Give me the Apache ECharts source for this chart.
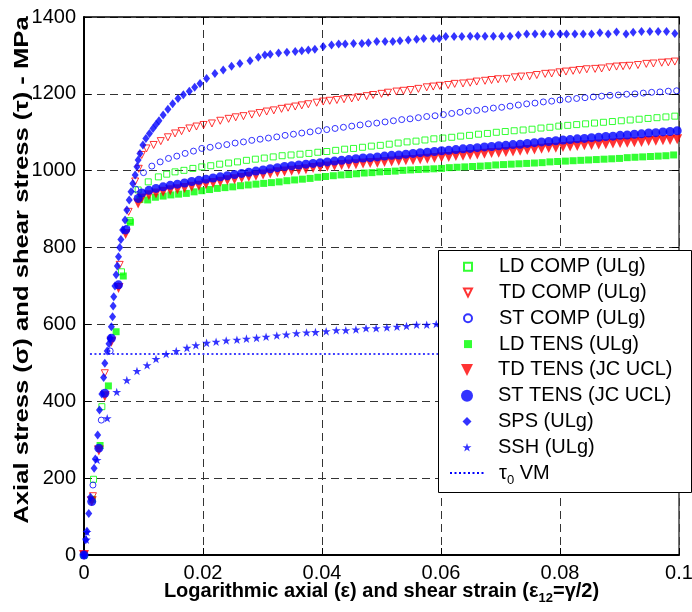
<!DOCTYPE html>
<html><head><meta charset="utf-8">
<script src="https://cdn.jsdelivr.net/npm/echarts@6/dist/echarts.min.js"></script>
<style>html,body{margin:0;padding:0;background:#fff}#c{width:692px;height:612px}</style>
</head><body><div id="c"></div>
<script>
// ---------- data (strain, stress MPa) ----------
const xTickLabels = ['0', '0.02', '0.04', '0.06', '0.08', '0.1'];
const yTickLabels = ['0', '200', '400', '600', '800', '1000', '1200', '1400'];

const ldComp = [[0,0],[0.0016,197],[0.0030,386],[0.0063,737],[0.0077,870],[0.0091,950],[0.0108,971],[0.0125,984],[0.0139,991],[0.0153,997],[0.0168,1001],[0.0183,1006],[0.0198,1010],[0.0213,1013],[0.0228,1017],[0.0243,1020],[0.0258,1023],[0.0273,1027],[0.0288,1030],[0.0303,1033],[0.0318,1036],[0.0333,1039],[0.0348,1041],[0.0363,1043],[0.0378,1045],[0.0393,1048],[0.0408,1050],[0.0423,1053],[0.0438,1056],[0.0453,1058],[0.0468,1061],[0.0483,1064],[0.0498,1066],[0.0513,1069],[0.0528,1072],[0.0543,1075],[0.0558,1077],[0.0573,1080],[0.0588,1083],[0.0603,1085],[0.0618,1087],[0.0633,1090],[0.0648,1092],[0.0663,1095],[0.0678,1097],[0.0693,1100],[0.0708,1102],[0.0723,1104],[0.0738,1106],[0.0753,1108],[0.0768,1111],[0.0783,1113],[0.0798,1116],[0.0813,1118],[0.0828,1120],[0.0843,1122],[0.0858,1124],[0.0873,1126],[0.0888,1128],[0.0903,1130],[0.0918,1132],[0.0933,1134],[0.0948,1136],[0.0963,1138],[0.0978,1140],[0.0993,1142]];

const tdComp = [[0,0],[0.0015,153],[0.0035,473],[0.0060,755],[0.0075,893],[0.0086,972],[0.0092,1005],[0.0097,1041],[0.0105,1058],[0.0117,1067],[0.0129,1077],[0.0141,1087],[0.0153,1097],[0.0164,1103],[0.0177,1110],[0.0189,1115],[0.0201,1119],[0.0215,1123],[0.0229,1130],[0.0243,1135],[0.0255,1139],[0.0268,1142],[0.0282,1146],[0.0295,1150],[0.0307,1154],[0.0319,1157],[0.0332,1161],[0.0343,1164],[0.0355,1167],[0.0366,1170],[0.0377,1173],[0.0391,1177],[0.0402,1180],[0.0413,1182],[0.0425,1184],[0.0437,1186],[0.0450,1188],[0.0461,1191],[0.0475,1194],[0.0486,1197],[0.0500,1200],[0.0511,1203],[0.0525,1206],[0.0537,1208],[0.0549,1210],[0.0562,1213],[0.0576,1217],[0.0587,1219],[0.0598,1221],[0.0612,1223],[0.0623,1226],[0.0637,1227],[0.0649,1229],[0.0660,1232],[0.0674,1234],[0.0685,1236],[0.0696,1238],[0.0710,1239],[0.0724,1243],[0.0735,1245],[0.0749,1246],[0.0761,1249],[0.0775,1252],[0.0786,1253],[0.0799,1256],[0.0810,1258],[0.0822,1260],[0.0833,1262],[0.0845,1264],[0.0859,1265],[0.0870,1266],[0.0883,1269],[0.0895,1271],[0.0906,1272],[0.0917,1273],[0.0931,1275],[0.0945,1278],[0.0957,1279],[0.0971,1281],[0.0982,1282],[0.0993,1284]];

const stComp = [[0,0],[0.0015,182],[0.0029,351],[0.0044,531],[0.0058,700],[0.0072,850],[0.0087,952],[0.0100,995],[0.0114,1012],[0.0128,1023],[0.0142,1032],[0.0156,1038],[0.0170,1045],[0.0184,1051],[0.0198,1058],[0.0212,1061],[0.0226,1065],[0.0240,1068],[0.0254,1072],[0.0268,1075],[0.0282,1079],[0.0296,1082],[0.0310,1085],[0.0324,1088],[0.0338,1092],[0.0352,1095],[0.0366,1098],[0.0380,1101],[0.0394,1104],[0.0408,1107],[0.0422,1110],[0.0436,1113],[0.0450,1116],[0.0464,1119],[0.0478,1122],[0.0492,1124],[0.0506,1127],[0.0520,1130],[0.0534,1133],[0.0548,1135],[0.0562,1138],[0.0576,1141],[0.0590,1143],[0.0604,1146],[0.0618,1149],[0.0632,1152],[0.0646,1155],[0.0660,1157],[0.0674,1160],[0.0688,1163],[0.0702,1165],[0.0716,1168],[0.0730,1171],[0.0744,1174],[0.0758,1176],[0.0772,1179],[0.0786,1181],[0.0800,1184],[0.0814,1186],[0.0828,1188],[0.0842,1190],[0.0856,1192],[0.0870,1194],[0.0884,1196],[0.0898,1197],[0.0912,1199],[0.0926,1200],[0.0940,1202],[0.0954,1204],[0.0968,1205],[0.0982,1207],[0.0996,1208]];

const ldTens = [[0,0],[0.0014,145],[0.0027,285],[0.0041,440],[0.0054,581],[0.0066,726],[0.0078,866],[0.0094,925],[0.0107,924],[0.0120,931],[0.0133,934],[0.0146,937],[0.0159,939],[0.0172,941],[0.0185,945],[0.0198,948],[0.0211,951],[0.0224,954],[0.0237,956],[0.0250,958],[0.0263,961],[0.0276,963],[0.0289,965],[0.0302,967],[0.0315,969],[0.0328,971],[0.0341,974],[0.0354,976],[0.0367,978],[0.0380,980],[0.0393,983],[0.0406,985],[0.0419,987],[0.0432,989],[0.0445,990],[0.0458,992],[0.0471,994],[0.0484,995],[0.0497,997],[0.0510,998],[0.0523,999],[0.0536,1001],[0.0549,1002],[0.0562,1003],[0.0575,1004],[0.0588,1005],[0.0601,1006],[0.0614,1008],[0.0627,1009],[0.0640,1010],[0.0653,1011],[0.0666,1012],[0.0679,1013],[0.0692,1015],[0.0705,1016],[0.0718,1017],[0.0731,1018],[0.0744,1019],[0.0757,1020],[0.0770,1021],[0.0783,1023],[0.0796,1024],[0.0809,1025],[0.0822,1026],[0.0835,1027],[0.0848,1028],[0.0861,1029],[0.0874,1030],[0.0887,1031],[0.0900,1032],[0.0913,1034],[0.0926,1035],[0.0939,1036],[0.0952,1037],[0.0965,1038],[0.0978,1039],[0.0991,1041]];

// JC UCL tension tests share one strain sampling
const tensStrain = [0,0.0013,0.0025,0.0035,0.0046,0.0058,0.0070,0.0091,
0.0097,0.0109,0.0121,0.0133,0.0145,0.0157,0.0169,0.0181,0.0193,0.0205,
0.0217,0.0229,0.0241,0.0253,0.0265,0.0277,0.0289,0.0301,0.0313,0.0325,
0.0337,0.0349,0.0361,0.0373,0.0385,0.0397,0.0409,0.0421,0.0433,0.0445,
0.0457,0.0469,0.0481,0.0493,0.0505,0.0517,0.0529,0.0541,0.0553,0.0565,
0.0577,0.0589,0.0601,0.0613,0.0625,0.0637,0.0649,0.0661,0.0673,0.0685,
0.0697,0.0709,0.0721,0.0733,0.0745,0.0757,0.0769,0.0781,0.0793,0.0805,
0.0817,0.0829,0.0841,0.0853,0.0865,0.0877,0.0889,0.0901,0.0913,0.0925,
0.0937,0.0949,0.0961,0.0973,0.0985,0.0997];
const tdTensStress = [0,140,272,413,555,695,835,915,
928,936,941,945,949,952,955,958,961,965,
968,971,975,978,981,984,987,990,993,996,
998,1000,1002,1004,1007,1009,1011,1013,1015,1016,
1017,1019,1020,1021,1023,1024,1026,1027,1028,1030,
1031,1033,1035,1036,1038,1039,1041,1042,1044,1046,
1047,1049,1050,1052,1054,1055,1057,1059,1060,1062,
1063,1064,1066,1067,1068,1069,1071,1072,1073,1074,
1075,1077,1078,1079,1080,1082];
const stTensStress = [0,139,278,421,564,703,846,928,
942,949,954,958,962,965,968,972,975,978,
981,984,987,990,993,996,999,1002,1005,1008,
1011,1013,1015,1017,1019,1021,1023,1025,1027,1029,
1031,1033,1034,1036,1038,1040,1041,1043,1045,1047,
1048,1050,1052,1053,1055,1057,1058,1060,1062,1063,
1065,1066,1068,1069,1071,1073,1075,1076,1078,1080,
1081,1083,1084,1086,1087,1089,1090,1092,1093,1095,
1096,1098,1099,1101,1102,1104];

const sps = [[0,0],[0.0003,40],[0.0005,62],[0.0008,108],[0.0011,150],[0.0017,226],[0.0019,250],[0.0023,312],[0.0026,377],[0.0030,419],[0.0033,462],[0.0035,499],[0.0039,531],[0.0042,550],[0.0044,564],[0.0046,594],[0.0048,620],[0.0049,648],[0.0050,672],[0.0052,700],[0.0054,729],[0.0056,752],[0.0058,776],[0.0060,800],[0.0062,821],[0.0065,846],[0.0069,872],[0.0072,898],[0.0076,924],[0.0079,945],[0.0082,967],[0.0086,989],[0.0089,1010],[0.0091,1028],[0.0094,1045],[0.0099,1067],[0.0104,1084],[0.0110,1097],[0.0116,1110],[0.0121,1120],[0.0126,1130],[0.0133,1145],[0.0141,1160],[0.0149,1174],[0.0158,1188],[0.0167,1198],[0.0177,1207],[0.0186,1217],[0.0195,1227],[0.0206,1240],[0.0220,1253],[0.0234,1262],[0.0248,1272],[0.0262,1279],[0.0279,1286],[0.0293,1295],[0.0304,1301],[0.0313,1303],[0.0327,1306],[0.0341,1308],[0.0355,1310],[0.0366,1312],[0.0377,1314],[0.0388,1316],[0.0402,1323],[0.0416,1327],[0.0428,1330],[0.0439,1330],[0.0453,1331],[0.0467,1331],[0.0478,1333],[0.0492,1336],[0.0506,1336],[0.0519,1336],[0.0531,1338],[0.0545,1340],[0.0559,1342],[0.0571,1344],[0.0587,1344],[0.0597,1344],[0.0608,1349],[0.0622,1349],[0.0635,1349],[0.0649,1350],[0.0661,1350],[0.0674,1350],[0.0688,1350],[0.0702,1350],[0.0716,1350],[0.0730,1353],[0.0744,1356],[0.0758,1356],[0.0772,1356],[0.0786,1356],[0.0800,1356],[0.0811,1356],[0.0825,1356],[0.0839,1356],[0.0853,1356],[0.0867,1359],[0.0881,1356],[0.0895,1361],[0.0911,1356],[0.0923,1360],[0.0937,1362],[0.0951,1362],[0.0965,1362],[0.0979,1362],[0.0993,1357]];

const ssh = [[0,0],[0.0004,40],[0.0005,60],[0.0022,247],[0.0039,356],[0.0055,424],[0.0072,455],[0.0089,479],[0.0106,494],[0.0121,510],[0.0138,523],[0.0155,531],[0.0173,539],[0.0188,546],[0.0206,552],[0.0222,555],[0.0239,558],[0.0257,560],[0.0273,563],[0.0290,565],[0.0306,568],[0.0324,571],[0.0340,574],[0.0357,577],[0.0374,579],[0.0389,580],[0.0407,582],[0.0424,585],[0.0440,585],[0.0457,587],[0.0474,590],[0.0491,590],[0.0509,592],[0.0526,594],[0.0542,596],[0.0559,599],[0.0576,599],[0.0592,601],[0.0609,602],[0.0626,603],[0.0643,605]];

const tau0Strain = [0.001, 0.1];
const tau0Stress = [523, 523];

// ---------- chart ----------
const zip = (xs, ys) => xs.map((x, i) => [x, ys[i]]);
const FONT = "'Liberation Sans', Arial, Helvetica, sans-serif";
const BLUE = '#0000ff', RED = '#ff0000', GREEN = '#00ff00';
const STAR = 'path://M50,0 L61.8,36.2 L100,36.2 L69.1,58.8 L80.9,95.1 L50,72.7 L19.1,95.1 L30.9,58.8 L0,36.2 L38.2,36.2 Z';
const DOWN_TRI = 'path://M0,0 L100,0 L50,100 Z';
const CLEAR = 'rgba(0,0,0,0)';

const chart = echarts.init(document.getElementById('c'), null, {renderer: 'canvas'});

function scatter(name, data, symbol, size, color, open) {
  return {
    name, type: 'scatter', data, symbol, symbolSize: size,
    symbolKeepAspect: true, clip: false, silent: true,
    itemStyle: open ? {color: CLEAR, borderColor: color, borderWidth: 1} : {color: color, borderWidth: 0},
    emphasis: {disabled: true}
  };
}

const richText = {
  a: {fontSize: 20, color: '#000', fontFamily: FONT, lineHeight: 20, verticalAlign: 'top'},
  s: {fontSize: 13, color: '#000', fontFamily: FONT, lineHeight: 13, padding: [11, 0, 0, 0], verticalAlign: 'top'}
};
// legend block: rows centred at 266.7 + 25.8*k, icon centred at x=467, text starting at x=498
function legendBlock(names, size, firstRow, isLine) {
  const w = isLine ? 36 : size;
  return {
    orient: 'vertical', left: 467 - w / 2, top: 266.7 + 25.8 * firstRow - 10, padding: 0, itemGap: 5.8,
    itemWidth: w, itemHeight: size, selectedMode: false, z: 10, backgroundColor: CLEAR,
    textStyle: {fontSize: 20, color: '#000', fontFamily: FONT, lineHeight: 20,
      padding: [0, 0, 0, 26 - w / 2], rich: richText},
    formatter: n => n === 'τ0 VM' ? '{a|τ}{s|0}{a| VM}' : n,
    data: names
  };
}

const option = {
  animation: false,
  textStyle: {fontFamily: FONT},
  grid: {left: 84, right: 13, top: 17, bottom: 57, containLabel: false, outerBoundsMode: 'none'},
  xAxis: [{
    type: 'value', min: 0, max: 0.1, interval: 0.02, position: 'bottom',
    axisLine: {show: true, lineStyle: {color: '#000', width: 2}},
    axisTick: {show: true, inside: true, length: 7, lineStyle: {color: '#000', width: 1}},
    axisLabel: {fontSize: 20, color: '#000', fontFamily: FONT, margin: 8,
      formatter: v => xTickLabels[Math.round(v / 0.02)]},
    splitLine: {show: true, lineStyle: {color: '#333', type: [8, 5], width: 1}},
    name: '{a|Logarithmic axial (ε) and shear strain (ε}{s|12}{a|=γ/2)}',
    nameLocation: 'middle', nameGap: 26, nameMoveOverlap: false,
    nameTextStyle: {rich: {
      a: {fontSize: 20, fontWeight: 'bold', color: '#000', fontFamily: FONT, lineHeight: 20, verticalAlign: 'top'},
      s: {fontSize: 13, fontWeight: 'bold', color: '#000', fontFamily: FONT, lineHeight: 13, padding: [11, 0, 0, 0], verticalAlign: 'top'}
    }}
  }, {
    type: 'value', min: 0, max: 0.1, interval: 0.02, position: 'top',
    axisLine: {show: true, onZero: false, lineStyle: {color: '#000', width: 1.5}},
    axisTick: {show: true, inside: true, length: 7, lineStyle: {color: '#000'}},
    axisLabel: {show: false}, splitLine: {show: false}
  }],
  yAxis: [{
    type: 'value', min: 0, max: 1400, interval: 200, position: 'left',
    axisLine: {show: true, lineStyle: {color: '#000', width: 2}},
    axisTick: {show: true, inside: true, length: 7, lineStyle: {color: '#000', width: 1}},
    axisLabel: {fontSize: 20, color: '#000', fontFamily: FONT, margin: 8,
      formatter: v => yTickLabels[Math.round(v / 200)]},
    splitLine: {show: true, lineStyle: {color: '#333', type: [8, 5], width: 1}}
  }, {
    type: 'value', min: 0, max: 1400, interval: 200, position: 'right',
    axisLine: {show: true, onZero: false, lineStyle: {color: '#444', width: 1.5}},
    axisTick: {show: true, inside: true, length: 7, lineStyle: {color: '#000'}},
    axisLabel: {show: false}, splitLine: {show: false}
  }],
  legend: [
    legendBlock([{name: 'LD COMP (ULg)'}, {name: 'TD COMP (ULg)', icon: DOWN_TRI}, {name: 'ST COMP (ULg)'}, {name: 'LD TENS (ULg)'}], 8, 0),
    legendBlock([{name: 'TD TENS (JC UCL)', icon: DOWN_TRI}, {name: 'ST TENS (JC UCL)'}], 12, 4),
    legendBlock([{name: 'SPS (ULg)'}, {name: 'SSH (ULg)'}], 9, 6),
    legendBlock([{name: 'τ0 VM', itemStyle: {opacity: 0, color: CLEAR, borderWidth: 0}}], 9, 8, true)
  ],
  graphic: [{
    type: 'rect', z: 5, silent: true,
    shape: {x: 438.5, y: 250.5, width: 253, height: 242},
    style: {fill: '#fff', stroke: '#000', lineWidth: 1}
  }, {
    type: 'text', z: 5, silent: true,
    x: 22, y: 270, rotation: Math.PI / 2, scaleX: 1.22,
    style: {text: 'Axial stress (σ) and shear stress (τ) - MPa', font: "bold 21px 'Liberation Sans', Arial, sans-serif",
      fill: '#000', textAlign: 'center', textVerticalAlign: 'middle'}
  }],
  series: [
    scatter('LD COMP (ULg)', ldComp, 'rect', 6, GREEN, true),
    scatter('TD COMP (ULg)', tdComp, DOWN_TRI, 7, RED, true),
    scatter('ST COMP (ULg)', stComp, 'circle', 6, BLUE, true),
    scatter('LD TENS (ULg)', ldTens, 'rect', 7, GREEN, false),
    scatter('TD TENS (JC UCL)', zip(tensStrain, tdTensStress), DOWN_TRI, 10, RED, false),
    scatter('ST TENS (JC UCL)', zip(tensStrain, stTensStress), 'circle', 9, BLUE, false),
    scatter('SPS (ULg)', sps, 'diamond', [7, 9], BLUE, false),
    scatter('SSH (ULg)', ssh, STAR, 9, BLUE, false),
    {
      name: 'τ0 VM', type: 'line', data: zip(tau0Strain, tau0Stress), symbol: 'none', silent: true,
      lineStyle: {color: BLUE, type: [2, 2.5], width: 1.5}, itemStyle: {color: BLUE}, z: 1
    }
  ]
};
chart.setOption(option);
</script>
</body></html>
